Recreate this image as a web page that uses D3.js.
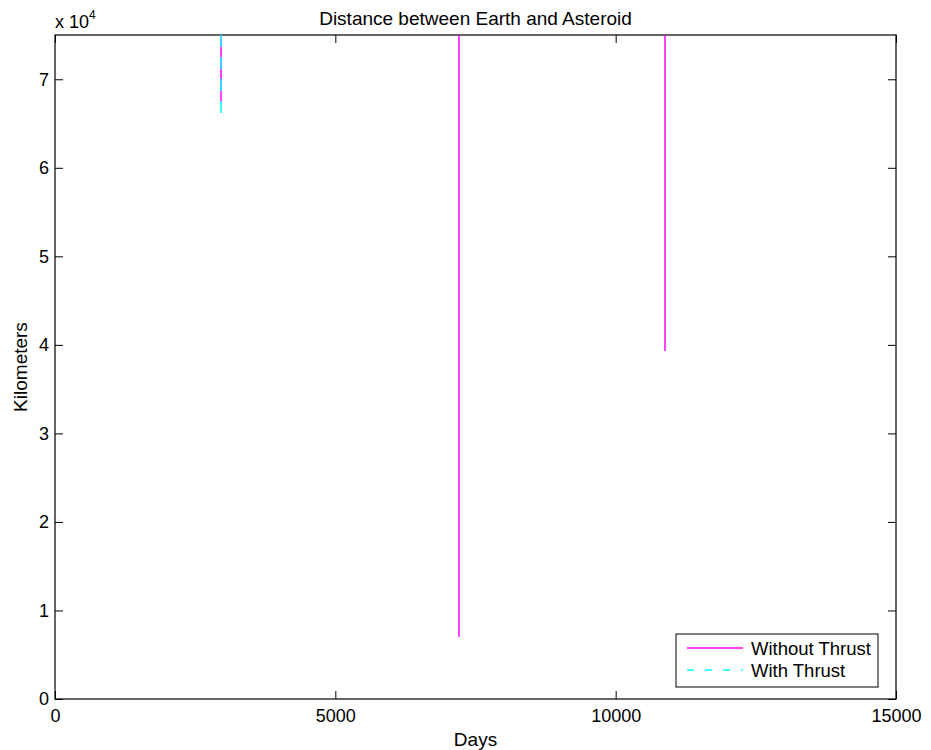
<!DOCTYPE html>
<html>
<head>
<meta charset="utf-8">
<script src="https://cdn.jsdelivr.net/npm/d3@7"></script>
<style>
  body { margin: 0; background: #fff; }
  text { font-family: "Liberation Sans", Arial, sans-serif; fill: #000; }
</style>
</head>
<body>
<div id="chart"></div>
<script>
// chart data: close approaches (day, minimum distance in km)
const withoutThrustDays = [2961, 7206, 10880];
const withoutThrustKm = [67500, 7000, 39300];
const withThrustDays = [2961];
const withThrustKm = [65900];

const xTicks = [0, 5000, 10000, 15000];
const yTicks = [0, 10000, 20000, 30000, 40000, 50000, 60000, 70000];

const canvWidth = 931, canvHeight = 750;
const margin = {top: 35, right: 35, bottom: 51, left: 55};
const width = canvWidth - margin.left - margin.right;
const height = canvHeight - margin.top - margin.bottom;

const svg = d3.select('#chart')
    .append('svg')
    .attr('width', canvWidth)
    .attr('height', canvHeight);

const plot = svg.append('g')
    .attr('transform', `translate(${margin.left},${margin.top})`);

const xScale = d3.scaleLinear().domain([0, 15000]).range([0, width]);
const yScale = d3.scaleLinear().domain([0, 75000]).range([height, 0]);

// clip path so curves stop at the frame
plot.append('clipPath').attr('id', 'clip')
    .append('rect').attr('width', width).attr('height', height);

const tickLen = 8;

// axes with inward ticks (box style)
plot.append('g')
    .attr('transform', `translate(0,${height})`)
    .call(d3.axisBottom(xScale).tickValues(xTicks).tickSizeInner(-tickLen).tickSizeOuter(0).tickPadding(10)
        .tickFormat(d3.format('d')));
plot.append('g')
    .call(d3.axisTop(xScale).tickValues(xTicks).tickSizeInner(-tickLen).tickSizeOuter(0).tickFormat(''));
plot.append('g')
    .call(d3.axisLeft(yScale).tickValues(yTicks).tickSizeInner(-tickLen).tickSizeOuter(0).tickPadding(6)
        .tickFormat(d => d / 10000));
plot.append('g')
    .attr('transform', `translate(${width},0)`)
    .call(d3.axisRight(yScale).tickValues(yTicks).tickSizeInner(-tickLen).tickSizeOuter(0).tickFormat(''));

plot.selectAll('.domain').remove();
plot.selectAll('.tick line').attr('stroke', '#000');
plot.selectAll('.tick text')
    .style('font-size', '18px')
    .style('font-family', '"Liberation Sans", Arial, sans-serif');

// frame
plot.append('rect')
    .attr('width', width)
    .attr('height', height)
    .attr('fill', 'none')
    .attr('stroke', '#000')
    .attr('stroke-width', 1.2);

// vertical dips of distance curves
const lines = plot.append('g').attr('clip-path', 'url(#clip)');
const yTop = yScale.domain()[1];

lines.selectAll('line.without')
    .data(withoutThrustDays.map((d, i) => ({day: d, km: withoutThrustKm[i]})))
    .enter()
    .append('line')
    .attr('class', 'without')
    .attr('x1', d => xScale(d.day))
    .attr('x2', d => xScale(d.day))
    .attr('y1', yScale(yTop))
    .attr('y2', d => yScale(d.km))
    .attr('stroke', '#ff00ff')
    .attr('stroke-width', 1.5);

lines.selectAll('line.with')
    .data(withThrustDays.map((d, i) => ({day: d, km: withThrustKm[i]})))
    .enter()
    .append('line')
    .attr('class', 'with')
    .attr('x1', d => xScale(d.day))
    .attr('x2', d => xScale(d.day))
    .attr('y1', yScale(yTop))
    .attr('y2', d => yScale(d.km))
    .attr('stroke', '#00ffff')
    .attr('stroke-width', 1.5)
    .attr('stroke-dasharray', '12,10');

// title and labels
svg.append('text')
    .attr('x', margin.left + width / 2)
    .attr('y', 25)
    .attr('text-anchor', 'middle')
    .style('font-size', '19px')
    .text('Distance between Earth and Asteroid');

const mult = svg.append('text')
    .attr('x', 55)
    .attr('y', 28)
    .style('font-size', '18px');
mult.append('tspan').text('x 10');
mult.append('tspan').attr('dy', -9).style('font-size', '12px').text('4');

svg.append('text')
    .attr('x', margin.left + width / 2)
    .attr('y', 746)
    .attr('text-anchor', 'middle')
    .style('font-size', '19px')
    .text('Days');

svg.append('text')
    .attr('transform', `translate(27,${margin.top + height / 2}) rotate(-90)`)
    .attr('text-anchor', 'middle')
    .style('font-size', '19px')
    .text('Kilometers');

// legend
const legend = svg.append('g')
    .attr('transform', 'translate(676,634)');

legend.append('rect')
    .attr('width', 202)
    .attr('height', 53)
    .attr('fill', '#fff')
    .attr('stroke', '#000')
    .attr('stroke-width', 1);

const legendItems = [
    {label: 'Without Thrust', color: '#ff00ff', dash: null},
    {label: 'With Thrust', color: '#00ffff', dash: '7,11'}
];

legendItems.forEach((item, i) => {
    const y = 14 + i * 22;
    legend.append('line')
        .attr('x1', 11).attr('x2', 67)
        .attr('y1', y).attr('y2', y)
        .attr('stroke', item.color)
        .attr('stroke-width', 1.5)
        .attr('stroke-dasharray', item.dash);
    legend.append('text')
        .attr('x', 75)
        .attr('y', y)
        .attr('dy', '0.36em')
        .style('font-size', '18.5px')
        .text(item.label);
});
</script>
</body>
</html>
